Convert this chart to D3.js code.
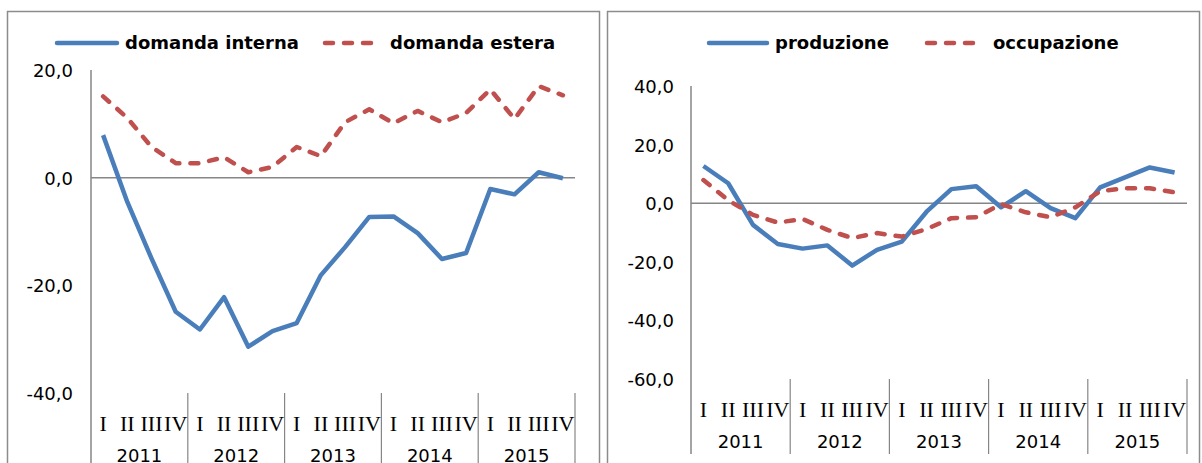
<!DOCTYPE html>
<html>
<head>
<meta charset="utf-8">
<script src="https://cdn.jsdelivr.net/npm/d3@7"></script>
<style>
  body { margin:0; background:#fff; }
  svg { display:block; }
  .tick-label { font-family:"DejaVu Sans", Verdana, sans-serif; font-size:18px; fill:#000; }
  .year-label { font-family:"DejaVu Sans", Verdana, sans-serif; font-size:18px; fill:#000; }
  .q-label { font-family:"Liberation Serif", "Times New Roman", serif; font-size:22px; fill:#000; }
  .legend-label { font-family:"DejaVu Sans", Verdana, sans-serif; font-size:18px; font-weight:bold; fill:#000; }
</style>
</head>
<body>
<svg id="chart"></svg>
<script>
// data (quarterly, 2011-2015)
var years = ["2011","2012","2013","2014","2015"];
var quarters = ["I","II","III","IV"];

var domandaInterna = [7.9,-4.5,-15.0,-24.9, -28.2,-22.2,-31.4,-28.5, -27.0,-18.1,-12.9,-7.3,
                      -7.2,-10.3,-15.1,-14.0, -2.1,-3.1,1.0,-0.1];
var domandaEstera = [15.1,11.1,5.7,2.7, 2.7,3.8,1.0,2.0, 5.7,4.0,10.3,12.7,
                     10.1,12.4,10.3,12.0, 16.4,10.9,17.0,15.3];

var produzione = [12.7,6.8,-7.4,-13.9, -15.5,-14.4,-21.3,-15.9, -13.1,-2.9,4.8,5.8,
                  -1.4,4.1,-1.7,-5.1, 5.4,8.8,12.2,10.5];
var occupazione = [7.9,1.0,-4.0,-6.6, -5.4,-9.1,-11.9,-10.2, -11.4,-8.8,-5.1,-4.8,
                   -0.3,-3.1,-4.8,-1.4, 4.1,5.1,5.1,3.7];

var leftTicks = [20,0,-20,-40];
var rightTicks = [40,20,0,-20,-40,-60];

var blue = "#4a7ebb";
var red = "#c0504d";

var screen = {width:1202, height:463};

var svg = d3.select("#chart")
    .attr("width",screen.width)
    .attr("height",screen.height);

// italian number format, plain hyphen for minus
var it = d3.formatLocale({decimal:",", thousands:".", grouping:[3], currency:["","€"], minus:"-"});
var fmt = it.format(".1f");

// every quarter key, e.g. "2011 I"
var keys = [];
years.forEach(function(y){
    quarters.forEach(function(q){ keys.push(y+" "+q); });
});

var drawPanel = function(p)
{
    var g = svg.append("g");

    // frame of the panel
    g.append("rect")
        .attr("x",p.box[0]).attr("y",p.box[1])
        .attr("width",p.box[2]-p.box[0]).attr("height",p.box[3]-p.box[1])
        .attr("fill","none").attr("stroke","#8c8c8c").attr("stroke-width",1.5);

    var xScale = d3.scalePoint()
        .domain(keys)
        .range([p.left,p.right])
        .padding(0.5);
    var yScale = d3.scaleLinear()
        .domain(p.domain)
        .range([p.bottom,p.top]);
    var yearScale = d3.scaleBand()
        .domain(years)
        .range([p.left,p.right]);

    // y labels
    var yAxis = d3.axisLeft(yScale)
        .tickValues(p.ticks)
        .tickFormat(fmt)
        .tickSize(0)
        .tickPadding(p.left-p.labelEnd);
    var ya = g.append("g")
        .attr("transform","translate("+p.left+",0)")
        .call(yAxis);
    ya.select(".domain").remove();
    ya.selectAll("text")
        .attr("class","tick-label")
        .attr("font-family",null).attr("font-size",null)
        .attr("dy","0.36em");

    // vertical axis line running down through the category area
    g.append("line")
        .attr("x1",p.left).attr("x2",p.left)
        .attr("y1",p.top).attr("y2",p.divEnd)
        .attr("stroke","#868686").attr("stroke-width",1.5);

    // zero line
    g.append("line")
        .attr("x1",p.left).attr("x2",p.right)
        .attr("y1",yScale(0)).attr("y2",yScale(0))
        .attr("stroke","#868686").attr("stroke-width",1.5);

    // year dividers
    g.selectAll(".divider")
        .data(years.slice(1).concat(["end"]))
        .enter().append("line")
        .attr("x1",function(d,i){ return yearScale(years[0])+yearScale.step()*(i+1); })
        .attr("x2",function(d,i){ return yearScale(years[0])+yearScale.step()*(i+1); })
        .attr("y1",p.bottom).attr("y2",p.divEnd)
        .attr("stroke","#868686").attr("stroke-width",1.2);

    // quarter labels
    g.selectAll(".q-label")
        .data(keys)
        .enter().append("text")
        .attr("class","q-label")
        .attr("x",function(d){ return xScale(d); })
        .attr("y",p.bottom+30)
        .attr("dy","0.35em")
        .attr("text-anchor","middle")
        .text(function(d){ return d.split(" ")[1]; });

    // year labels
    g.selectAll(".year-label")
        .data(years)
        .enter().append("text")
        .attr("class","year-label")
        .attr("x",function(d){ return yearScale(d)+yearScale.bandwidth()/2; })
        .attr("y",p.bottom+63)
        .attr("dy","0.36em")
        .attr("text-anchor","middle")
        .text(function(d){ return d; });

    // series
    var line = d3.line()
        .x(function(d,i){ return xScale(keys[i]); })
        .y(function(d){ return yScale(d); });

    p.series.forEach(function(s){
        g.append("path")
            .datum(s.values)
            .attr("d",line)
            .attr("fill","none")
            .attr("stroke",s.color)
            .attr("stroke-width",4.5)
            .attr("stroke-linejoin","round")
            .attr("stroke-linecap",s.dash ? "round" : "butt")
            .attr("stroke-dasharray",s.dash ? "8,11" : null);
    });

    // legend
    p.series.forEach(function(s,i){
        var lx = p.legendX[i];
        g.append("line")
            .attr("x1",lx[0]).attr("x2",lx[1])
            .attr("y1",p.legendY).attr("y2",p.legendY)
            .attr("stroke",s.color)
            .attr("stroke-width",4.5)
            .attr("stroke-linecap","round")
            .attr("stroke-dasharray",s.dash ? "8,11" : null);
        g.append("text")
            .attr("class","legend-label")
            .attr("x",lx[2])
            .attr("y",p.legendY)
            .attr("dy","0.32em")
            .text(s.name);
    });
}

drawPanel({
    box:[7.5,11.5,599.5,475],
    left:91, right:575, top:70, bottom:393,
    labelEnd:73, divEnd:475,
    domain:[-40,20], ticks:leftTicks,
    legendY:43, legendX:[[57,117,125],[325,380,390]],
    series:[
        {name:"domanda interna", values:domandaInterna, color:blue, dash:false},
        {name:"domanda estera", values:domandaEstera, color:red, dash:true}
    ]
});

drawPanel({
    box:[607.5,11.5,1199.5,475],
    left:691, right:1187, top:86, bottom:379,
    labelEnd:674, divEnd:454,
    domain:[-60,40], ticks:rightTicks,
    legendY:43, legendX:[[709,767,775],[927,982,993]],
    series:[
        {name:"produzione", values:produzione, color:blue, dash:false},
        {name:"occupazione", values:occupazione, color:red, dash:true}
    ]
});
</script>
</body>
</html>
